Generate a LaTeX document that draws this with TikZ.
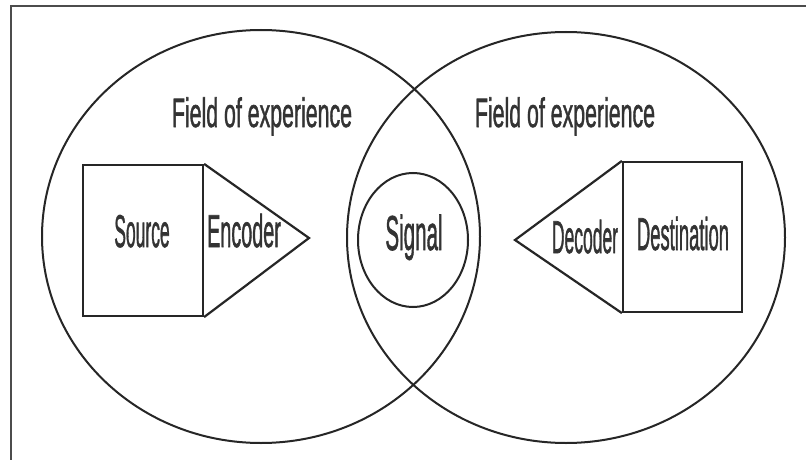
\documentclass[tikz,border=0pt]{standalone}
\usepackage{fontspec}
\setmainfont{Liberation Sans}
\newfontfamily\heavyfont[FakeBold=1.6]{Liberation Sans}
\usetikzlibrary{shapes.geometric}
\tikzset{
  field/.style={draw=black!85, line width=2pt, ellipse, inner sep=0pt},
  boxed/.style={draw=black!85, line width=2.2pt, rectangle, inner sep=0pt},
  lbl/.style={anchor=base, inner sep=0pt, text=black!80, font=\heavyfont},
  wedge/.style={draw=black!85, line width=2.2pt, line join=miter},
  frame/.style={draw=black!70, line width=2pt}
}
\newcommand{\bigtxt}[2]{\fontsize{46}{50}\selectfont\scalebox{#1}[1]{#2}}
\newcommand{\fldtxt}[1]{\fontsize{41}{44}\selectfont\scalebox{0.52}[1]{#1}}
\begin{document}
\begin{tikzpicture}[x=1pt,y=-1pt]
\useasboundingbox (0,0) rectangle (806,460);
\fill[white] (0,0) rectangle (806,460);
% frame
\coordinate (fc) at (11,6);
\coordinate (fr) at (806,6);
\coordinate (fb) at (11,460);
\draw[frame] (fr) -- (fc) -- (fb);
% fields
\node[field, minimum width=438pt, minimum height=413pt] (lf) at (261,236.5) {};
\node[field, minimum width=438pt, minimum height=411pt] (rf) at (566,237.5) {};
\node[field, minimum width=110pt, minimum height=134pt] (sig) at (413,240) {};
% source / encoder
\node[boxed, minimum width=120pt, minimum height=151pt] (src) at (143,240.5) {};
\coordinate (etip) at (309,238);
\draw[wedge] (src.north east) -- (etip) -- (src.south east);
% destination / decoder
\node[boxed, minimum width=119pt, minimum height=150pt] (dst) at (682.5,237) {};
\coordinate (dtip) at (515,240);
\draw[wedge] (dst.north west) -- (dtip) -- (dst.south west);
% labels
\node[lbl] (lft) at (262,127) {\fldtxt{Field of experience}};
\node[lbl] (rft) at (565,127) {\fldtxt{Field of experience}};
\node[lbl] (srct) at (142,247) {\bigtxt{0.38}{Source}};
\node[lbl] (enct) at (244,247) {\bigtxt{0.43}{Encoder}};
\node[lbl] (sigt) at (414,250) {\fontsize{49}{52}\selectfont\scalebox{0.42}[1]{Signal}};
\node[lbl] (dect) at (585,253) {\bigtxt{0.38}{Decoder}};
\node[lbl] (dstt) at (683,250) {\bigtxt{0.40}{Destination}};
\end{tikzpicture}
\end{document}
